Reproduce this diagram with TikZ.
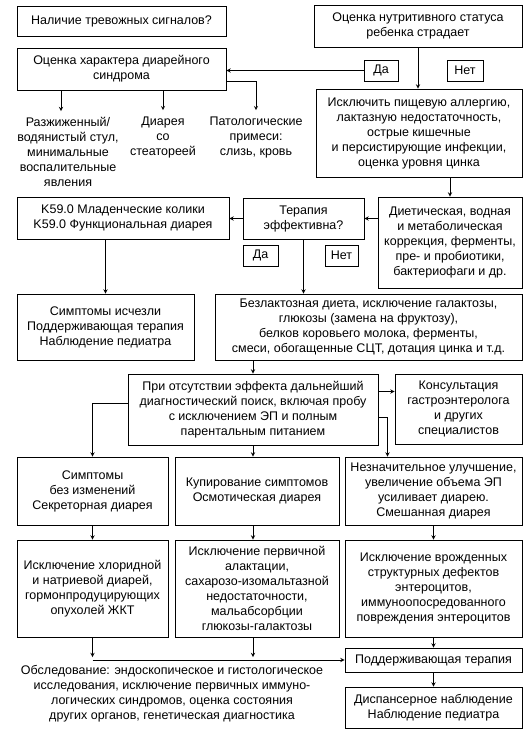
\documentclass[tikz,border=0pt]{standalone}
\usepackage{fontspec}
\setmainfont{Liberation Sans}
\begin{document}
\begin{tikzpicture}[
        x=1pt, y=-1pt,
        font=\fontsize{12.5}{15}\selectfont,
        box/.style={draw, line width=0.9pt, align=center, inner sep=1pt},
        tag/.style={draw, line width=0.9pt, inner sep=0pt, minimum height=21pt},
        plain/.style={align=center, inner sep=0pt},
        flow/.style={->, >=stealth, line width=0.9pt}
    ]
    \useasboundingbox (0,0) rectangle (531,742);

    % верхний ряд
    \node[box, minimum width=209pt, minimum height=30pt] (alarm) at (121.5, 21) {Наличие тревожных сигналов?};
    \node[box, minimum width=208pt, minimum height=42pt] (status) at (418, 26) {Оценка нутритивного статуса\\ребенка страдает};
    \node[box, minimum width=209pt, minimum height=42pt] (assess) at (121.5, 69) {Оценка характера диарейного\\синдрома};
    \node[tag, minimum width=34pt] (yesA) at (381, 70.5) {Да};
    \node[tag, minimum width=36pt] (noA) at (465, 70.5) {Нет};
    \node[box, minimum width=206pt, minimum height=88pt] (exclude) at (419, 133) {Исключить пищевую аллергию,\\лактазную недостаточность,\\острые кишечные\\и персистирующие инфекции,\\оценка уровня цинка};

    % характер стула
    \node[plain] (loose) at (68, 152) {Разжиженный/\\водянистый стул,\\минимальные\\воспалительные\\явления};
    \node[plain] (steator) at (163, 137) {Диарея\\со\\стеатореей};
    \node[plain] (admix) at (256, 137) {Патологические\\примеси:\\слизь, кровь};

    % терапия
    \node[box, minimum width=212pt, minimum height=42pt] (colic) at (123, 218) {K59.0 Младенческие колики\\K59.0 Функциональная диарея};
    \node[box, minimum width=121pt, minimum height=41pt] (therapy) at (303.5, 218.5) {Терапия\\эффективна?};
    \node[tag, minimum width=35pt] (yesB) at (260.5, 255.5) {Да};
    \node[tag, minimum width=33pt] (noB) at (341.5, 255.5) {Нет};
    \node[box, minimum width=144pt, minimum height=91pt] (diet) at (450, 242.5) {Диетическая, водная\\и метаболическая\\коррекция, ферменты,\\пре- и пробиотики,\\бактериофаги и др.};
    \node[box, minimum width=177pt, minimum height=66pt] (gone) at (105.5, 327) {Симптомы исчезли\\Поддерживающая терапия\\Наблюдение педиатра};
    \node[box, minimum width=307pt, minimum height=66pt] (lactose) at (368.5, 327) {Безлактозная диета, исключение галактозы,\\глюкозы (замена на фруктозу),\\белков коровьего молока, ферменты,\\смеси, обогащенные СЦТ, дотация цинка и т.д.};

    % дальнейший поиск
    \node[box, minimum width=250pt, minimum height=71pt] (search) at (253, 409.5) {При отсутствии эффекта дальнейший\\диагностический поиск, включая пробу\\с исключением ЭП и полным\\парентальным питанием};
    \node[box, minimum width=127pt, minimum height=70pt] (consult) at (458.5, 409) {Консультация\\гастроэнтеролога\\и других\\специалистов};

    % типы диареи
    \node[box, minimum width=151pt, minimum height=68pt] (secretory) at (92.5, 491) {Симптомы\\без изменений\\Секреторная диарея};
    \node[box, minimum width=164pt, minimum height=68pt] (osmotic) at (257, 491) {Купирование симптомов\\Осмотическая диарея};
    \node[box, minimum width=177pt, minimum height=68pt] (mixed) at (433.5, 491) {Незначительное улучшение,\\увеличение объема ЭП\\усиливает диарею.\\Смешанная диарея};
    \node[box, minimum width=151pt, minimum height=97pt] (chloride) at (92.5, 588.5) {Исключение хлоридной\\и натриевой диарей,\\гормонпродуцирующих\\опухолей ЖКТ};
    \node[box, minimum width=164pt, minimum height=97pt] (alactasia) at (257, 588.5) {Исключение первичной\\алактации,\\сахарозо-изомальтазной\\недостаточности,\\мальабсорбции\\глюкозы-галактозы};
    \node[box, minimum width=177pt, minimum height=97pt] (congenital) at (433.5, 588.5) {Исключение врожденных\\структурных дефектов\\энтероцитов,\\иммуноопосредованного\\повреждения энтероцитов};

    % нижний ряд
    \node[box, minimum width=177pt, minimum height=24pt] (support) at (433.5, 660) {Поддерживающая терапия};
    \node[box, minimum width=177pt, minimum height=41pt] (followup) at (433.5, 707.5) {Диспансерное наблюдение\\Наблюдение педиатра};
    \node[plain] (exam) at (172, 693.5) {Обследование: эндоскопическое и гистологическое\\исследования, исключение первичных иммуно-\\логических синдромов, оценка состояния\\других органов, генетическая диагностика};

    % стрелки
    \draw[flow] (status.south) -- (status.south |- exclude.north);
    \draw[flow] (yesA.west) -- (yesA.west -| assess.east);
    \coordinate (lt) at ([xshift=-7pt, yshift=6pt]loose.north);
    \draw[flow] (assess.south -| lt) -- (lt);
    \draw[flow] (assess.south -| steator.north) -- ([yshift=6pt]steator.north);
    \draw[flow] ([yshift=-12pt]assess.east) -| ([yshift=6pt]admix.north);
    \draw[flow] (exclude.south -| diet.north) -- (diet.north);
    \draw[flow] (diet.west |- therapy.east) -- (therapy.east);
    \draw[flow] (therapy.west) -- (therapy.west -| colic.east);
    \draw[flow] (colic.south -| gone.north) -- (gone.north);
    \draw[flow] (therapy.south) -- (therapy.south |- lactose.north);
    \draw[flow] (lactose.south -| search.north) -- (search.north);
    \draw[flow] ([yshift=18pt]search.east) -- ([yshift=18pt]search.east -| consult.west);
    \draw[flow] ([yshift=6pt]search.west) -| (secretory.north);
    \draw[flow] (search.south) -- (search.south |- osmotic.north);
    \draw[flow] ([yshift=-8pt]search.east) -| ([xshift=-46pt]mixed.north);
    \foreach \a/\b in {secretory/chloride, mixed/congenital, congenital/support, support/followup} {
            \draw[flow] (\a.south) -- (\b.north);
        }
    \draw[flow] (search.south |- osmotic.south) -- (search.south |- alactasia.north);
    \draw[flow] (chloride.south) -- ([yshift=3pt]chloride.south |- support.west);
    \draw[flow] (search.south |- alactasia.south) -- ([yshift=3pt]search.south |- support.west);
    \draw[flow] (chloride.south |- support.west) -- (support.west);
\end{tikzpicture}
\end{document}
